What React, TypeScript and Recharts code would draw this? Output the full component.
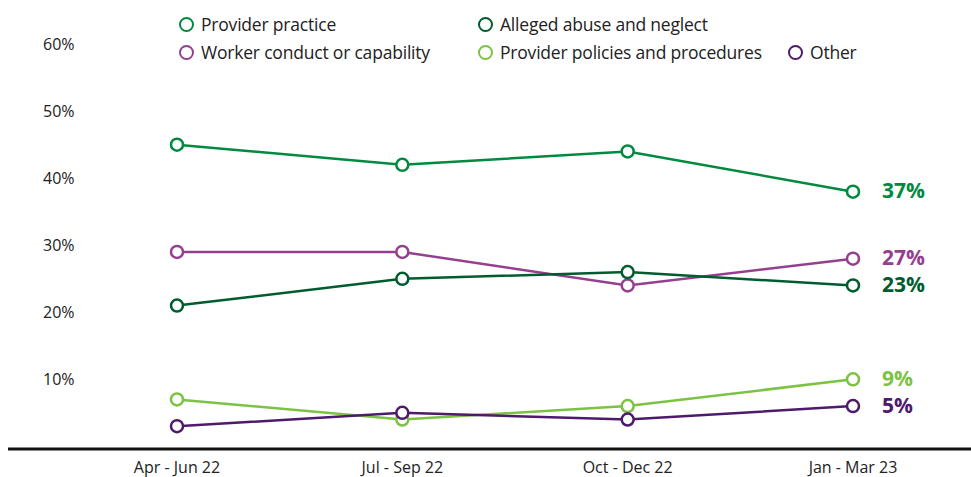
import React from "react";
import { LineChart, Line, XAxis, YAxis, LabelList } from "recharts";

const quarters = ["Apr - Jun 22", "Jul - Sep 22", "Oct - Dec 22", "Jan - Mar 23"];
const providerPractice = [44, 41, 43, 37];
const workerConduct = [28, 28, 23, 27];
const allegedAbuse = [20, 24, 25, 23];
const providerPolicies = [6, 3, 5, 9];
const other = [2, 4, 3, 5];
const yTicks = [10, 20, 30, 40, 50, 60];

const series = [
  { key: "pp", name: "Provider practice", values: providerPractice, color: "#008a3f" },
  { key: "wc", name: "Worker conduct or capability", values: workerConduct, color: "#95408f" },
  { key: "aa", name: "Alleged abuse and neglect", values: allegedAbuse, color: "#005c2e" },
  { key: "pol", name: "Provider policies and procedures", values: providerPolicies, color: "#7cc243" },
  { key: "oth", name: "Other", values: other, color: "#4e1a6c" },
];

const data = quarters.map((q, i) => {
  const row: Record<string, string | number> = { quarter: q };
  series.forEach((s) => (row[s.key] = s.values[i]));
  return row;
});

const FONT = "'Open Sans', sans-serif";

// legend placement in two rows, like the original
const legendSlots: Record<string, { left: number; top: number }> = {
  pp: { left: 179, top: 12 },
  aa: { left: 478, top: 12 },
  wc: { left: 179, top: 40 },
  pol: { left: 478, top: 40 },
  oth: { left: 788, top: 40 },
};

const YTick = (props: any) => (
  <text x={43} y={props.y + 8} dominantBaseline="middle" fontSize={16} fill="#222" fontFamily={FONT}>
    {props.payload.value}%
  </text>
);

const XTick = (props: any) => (
  <text x={props.x} y={props.y + 12} textAnchor="middle" dominantBaseline="middle" fontSize={16} fill="#222" fontFamily={FONT}>
    {props.payload.value}
  </text>
);

const endLabel = (color: string) => (props: any) => {
  if (props.index !== quarters.length - 1) return null;
  return (
    <text x={props.x + 29} y={props.y + 1} dominantBaseline="middle" fontSize={21} fontWeight="bold" fill={color} fontFamily={FONT}>
      {props.value}%
    </text>
  );
};

export default function App() {
  return (
    <div style={{ position: "absolute", left: 0, top: 0, width: 971, height: 477, background: "#fff" }}>
      {series.map((s) => (
        <div
          key={s.key}
          style={{
            position: "absolute",
            left: legendSlots[s.key].left,
            top: legendSlots[s.key].top,
            display: "flex",
            alignItems: "center",
            fontFamily: FONT,
            fontSize: 17.5,
            letterSpacing: -0.2,
            color: "#222",
            whiteSpace: "nowrap",
          }}
        >
          <span
            style={{
              width: 11,
              height: 11,
              borderRadius: "50%",
              border: `2.5px solid ${s.color}`,
              marginRight: 7,
              display: "inline-block",
            }}
          />
          {s.name}
        </div>
      ))}
      <LineChart width={971} height={477} data={data} margin={{ top: 37.5, right: 0, bottom: 0, left: 7 }}>
        <XAxis
          dataKey="quarter"
          height={28}
          padding={{ left: 169, right: 118 }}
          tickLine={false}
          axisLine={{ stroke: "#111", strokeWidth: 3 }}
          tick={<XTick />}
          interval={0}
        />
        <YAxis
          width={1}
          domain={[-1.4, 60]}
          ticks={yTicks}
          axisLine={false}
          tickLine={false}
          tick={<YTick />}
          interval={0}
          allowDataOverflow
        />
        {series.map((s) => (
          <Line
            key={s.key}
            dataKey={s.key}
            name={s.name}
            stroke={s.color}
            strokeWidth={2.5}
            dot={{ r: 6, fill: "#fff", stroke: s.color, strokeWidth: 2.5 }}
            activeDot={false}
            isAnimationActive={false}
          >
            <LabelList dataKey={s.key} content={endLabel(s.color)} />
          </Line>
        ))}
      </LineChart>
    </div>
  );
}
